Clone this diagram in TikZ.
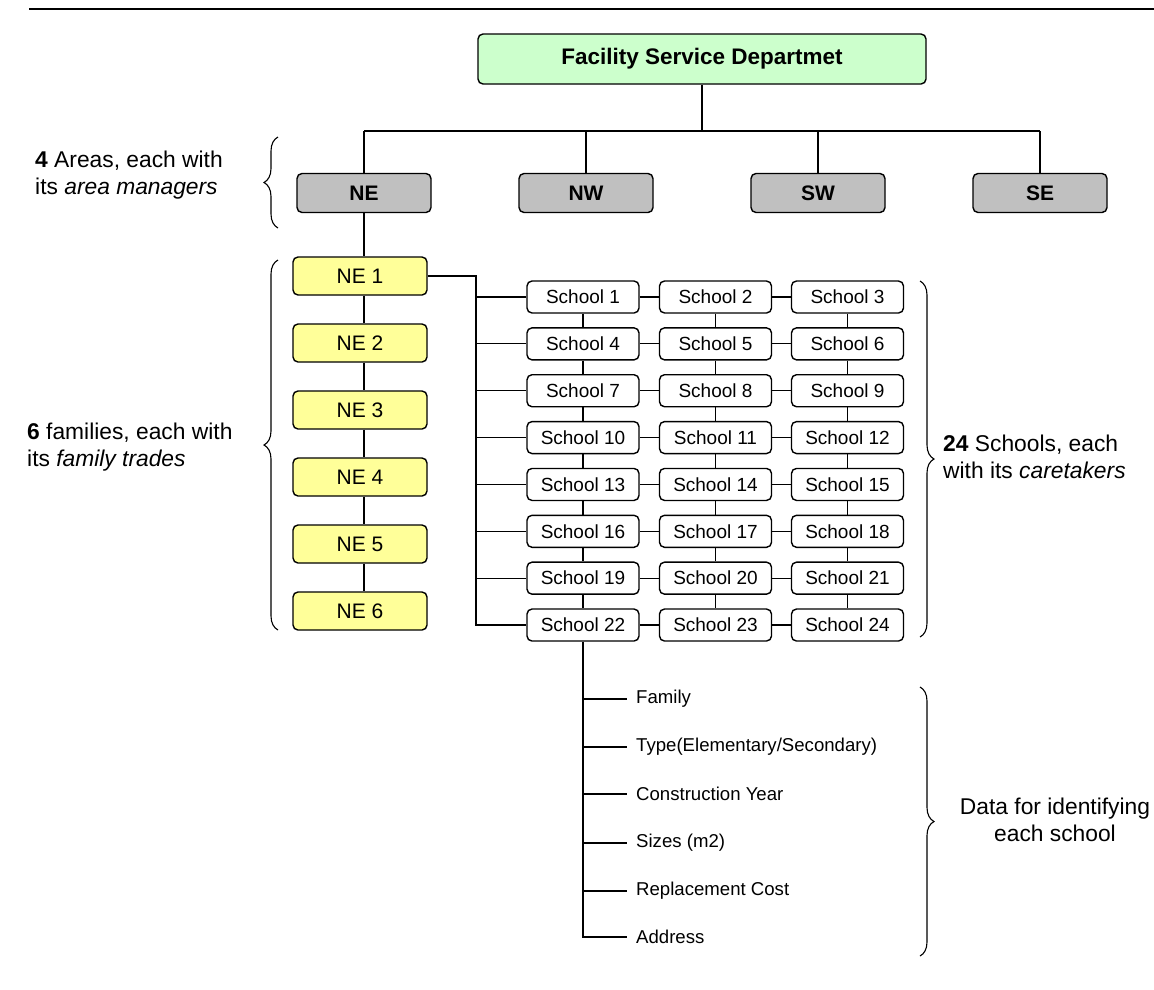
\documentclass[tikz,border=0pt]{standalone}
\usepackage{fontspec}
\setmainfont{Liberation Sans}
\usetikzlibrary{decorations.pathreplacing}

\definecolor{deptgreen}{HTML}{CCFFCC}
\definecolor{areagray}{HTML}{C0C0C0}
\definecolor{famyellow}{HTML}{FFFF99}

\begin{document}
\begin{tikzpicture}[x=1pt,y=-1pt,
  link/.style={draw=black, line width=1.2pt},
  boxbase/.style={draw=black, line width=1.4pt, rounded corners=5pt, inner sep=0pt, align=center},
  deptbox/.style={boxbase, fill=deptgreen, minimum width=448pt, minimum height=50pt,
    font=\fontsize{22.5}{26}\selectfont\bfseries},
  areabox/.style={boxbase, fill=areagray, minimum width=134pt, minimum height=39pt,
    font=\fontsize{21}{25}\selectfont\bfseries},
  fambox/.style={boxbase, fill=famyellow, minimum width=134pt, minimum height=38pt,
    font=\fontsize{21}{25}\selectfont},
  schoolbox/.style={boxbase, fill=white, minimum width=112pt, minimum height=32pt,
    font=\fontsize{19}{23}\selectfont},
  leaf/.style={anchor=west, inner xsep=9pt, inner ysep=0pt, font=\fontsize{18.6}{22}\selectfont},
  note/.style={inner sep=0pt, font=\fontsize{22.8}{27.5}\selectfont},
  curly/.style={draw=black, line width=1.1pt, decorate,
    decoration={brace, amplitude=14pt, aspect=0.5}}
]
\useasboundingbox (0,0) rectangle (1154,989);

% header rule
\draw[line width=2.6pt] (29,9) -- (1154,9);

% department and areas
\node[deptbox] (fsd) at (702,59) {Facility Service Departmet};
\node[areabox] (ne) at (364,193) {NE};
\node[areabox] (nw) at (586,193) {NW};
\node[areabox] (sw) at (818,193) {SW};
\node[areabox] (se) at (1040,193) {SE};

\coordinate (bus) at (0,131);
\draw[link] (fsd.south) -- (fsd.south |- bus);
\draw[link] (ne.north |- bus) -- (se.north |- bus);
\foreach \a in {ne,nw,sw,se}
  \draw[link] (\a.north) -- (\a.north |- bus);

% families of the NE area
\foreach \i in {1,...,6}
  \node[fambox] (ne\i) at (360,{276+67*(\i-1)}) {NE \i};
\draw[link] (ne.south) -- (ne.south |- ne1.north);
\foreach \i [evaluate=\i as \j using int(\i+1)] in {1,...,5}
  \draw[link] (ne.south |- ne\i.south) -- (ne.south |- ne\j.north);

% schools grid
\foreach \r in {0,...,7}
  \foreach \c/\cx in {1/583,2/715.5,3/847.5} {
    \pgfmathtruncatemacro\n{3*\r+\c}
    \node[schoolbox] (s\n) at (\cx,{297+46.86*\r}) {School \n};
  }

% horizontal links inside each row, vertical links inside each column
\foreach \r in {0,...,7} {
  \pgfmathtruncatemacro\a{3*\r+1}
  \pgfmathtruncatemacro\b{3*\r+2}
  \pgfmathtruncatemacro\c{3*\r+3}
  \draw[link] (s\a.east) -- (s\b.west);
  \draw[link] (s\b.east) -- (s\c.west);
}
\foreach \n in {1,...,21} {
  \pgfmathtruncatemacro\m{\n+3}
  \draw[link] (s\n.south) -- (s\m.north);
}

% trunk from NE 1 to the first school column
\coordinate (trunk) at (476,0);
\draw[link] (ne1.east) -| (trunk |- s22.west) -- (s22.west);
\foreach \n in {1,4,7,10,13,16,19}
  \draw[link] (trunk |- s\n.west) -- (s\n.west);

% data kept for each school
\node[leaf] (fam)  at (627,699) {Family};
\node[leaf] (typ)  at (627,747) {Type(Elementary/Secondary)};
\node[leaf] (yr)   at (627,794) {Construction Year};
\node[leaf] (size) at (627,843) {Sizes (m2)};
\node[leaf] (cost) at (627,891) {Replacement Cost};
\node[leaf] (addr) at (627,937) {Address};
\draw[link] (s22.south) |- (addr.west);
\foreach \l in {fam,typ,yr,size,cost}
  \draw[link] (s22.south |- \l.west) -- (\l.west);

% braces and annotations
\coordinate (ab1) at (278,228);
\coordinate (ab2) at (278,137);
\draw[curly] (ab1) -- (ab2);
\node[note, anchor=west, align=left] (areatxt) at (35,175)
  {\textbf{4} Areas, each with\\its \textit{area managers}};

\coordinate (fb1) at (278,630);
\coordinate (fb2) at (278,260);
\draw[curly] (fb1) -- (fb2);
\node[note, anchor=west, align=left] (famtxt) at (27,447)
  {\textbf{6} families, each with\\its \textit{family trades}};

\coordinate (sb1) at (920,281);
\coordinate (sb2) at (920,637);
\draw[curly] (sb1) -- (sb2);
\node[note, anchor=west, align=left] (schtxt) at (943,457)
  {\textbf{24} Schools, each\\with its \textit{caretakers}};

\coordinate (db1) at (920,687);
\coordinate (db2) at (920,956);
\draw[curly] (db1) -- (db2);
\node[note, align=center] (datatxt) at (1055,820)
  {Data for identifying\\each school};
\end{tikzpicture}
\end{document}
